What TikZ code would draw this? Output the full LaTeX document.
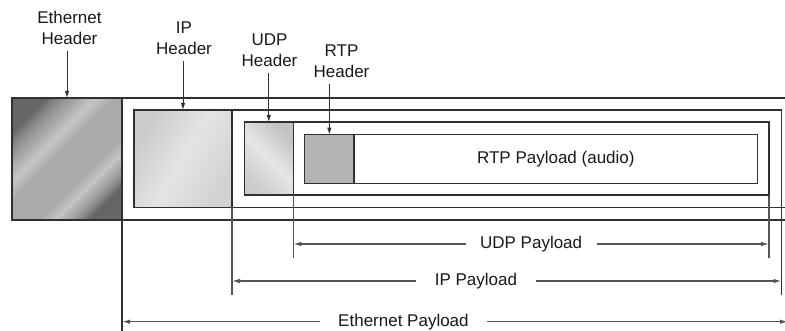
\documentclass[tikz,border=0pt]{standalone}
\usepackage{fontspec}
\setmainfont{Liberation Sans}
\usetikzlibrary{arrows.meta}
\definecolor{lnc}{HTML}{303030}
\definecolor{gln}{HTML}{555555}
\definecolor{ea}{HTML}{666666}
\definecolor{ea2}{HTML}{828282}
\definecolor{eb}{HTML}{AAAAAA}
\definecolor{eb2}{HTML}{A0A0A0}
\definecolor{ec}{HTML}{C4C4C4}
\definecolor{ia}{HTML}{CBCBCB}
\definecolor{ib}{HTML}{E4E4E4}
\definecolor{ic}{HTML}{D2D2D2}
\definecolor{ua}{HTML}{C2C2C2}
\definecolor{ub}{HTML}{E6E6E6}
\definecolor{uc}{HTML}{CFCFCF}
\definecolor{rtpg}{HTML}{B3B3B3}
\pgfdeclarehorizontalshading{ethsh}{100bp}{color(0bp)=(ea); color(25bp)=(ea); color(28bp)=(ea2); color(33bp)=(eb2); color(40bp)=(ec); color(46bp)=(eb); color(60bp)=(eb); color(65bp)=(ec); color(70bp)=(eb2); color(73bp)=(ea2); color(75bp)=(ea); color(100bp)=(ea)}
\pgfdeclarehorizontalshading{ipsh}{100bp}{color(0bp)=(ia); color(25bp)=(ia); color(50bp)=(ib); color(75bp)=(ic); color(100bp)=(ic)}
\pgfdeclarehorizontalshading{udpsh}{100bp}{color(0bp)=(ua); color(28bp)=(uc); color(50bp)=(ub); color(75bp)=(ua); color(100bp)=(ua)}
\begin{document}
\begin{tikzpicture}[x=1pt, y=-1pt,
  font=\fontsize{17}{21.5}\selectfont,
  box/.style={draw=lnc, line width=1.2pt, inner sep=0pt, outer sep=0pt},
  ln/.style={draw=lnc, line width=1.2pt},
  ext/.style={draw=gln, line width=1.4pt},
  lab/.style={align=center, inner sep=0pt, outer sep=0pt, anchor=north, text=black!90},
  harr/.style={draw=lnc, line width=1pt, -{Latex[length=7pt,width=4.5pt]}},
  parr/.style={draw=gln, line width=1.2pt, {Latex[length=8pt,width=4.5pt]}-{Latex[length=8pt,width=4.5pt]}},
  plab/.style={fill=white, inner ysep=2pt, text=black!90}]
\clip (0,0) rectangle (785,331);
% header boxes
\node[box, shade, shading=ethsh, shading angle=-45, minimum width=110, minimum height=122] (ethh) at (67,159) {};
\node[box, shade, shading=ipsh, shading angle=-30, minimum width=98, minimum height=97.5] (iph) at (183,158.75) {};
\node[box, shade, shading=udpsh, shading angle=45, minimum width=49, minimum height=73] (udph) at (268.8,158.5) {};
\node[box, fill=rtpg, minimum width=49.3, minimum height=49] (rtph) at (329.35,159.2) {};
\node[box, minimum width=403.7, minimum height=49, text=black!90] (rtpp) at (555.85,159.2) {RTP Payload (audio)};
% Ethernet frame
\draw[ln] (785,98) -- (ethh.north west);
\draw[ln] (ethh.south west) -- (785,220);
\draw[ln] (ethh.north east) -- (122,331);
% IP frame
\draw[ln] (iph.north east) -- (781.5,110) -- (781.5,295);
\draw[ln] (iph.south east) -- (785,207.5);
\draw[ext] (iph.south east) -- (232,295);
% UDP frame
\draw[ln] (udph.north east) -- (769,122) -- (769,195);
\draw[ext] (769,195) -- (769,258);
\draw[ln] (udph.south east) -- (769,195);
\draw[ext] (udph.south east) -- (293.3,258);
% payload arrows
\coordinate (uL) at (293.3,244); \coordinate (uR) at (769,244);
\coordinate (iL) at (232,281); \coordinate (iR) at (781.5,281);
\coordinate (eL) at (122,321.7); \coordinate (eR) at (788,321.7);
\draw[parr] (uL) -- node[plab, inner xsep=14.5pt] {UDP Payload} (uR);
\draw[parr] (iL) -- node[plab, inner xsep=19pt, pos=0.444] {IP Payload} (iR);
\draw[parr] (eL) -- node[plab, inner xsep=18.5pt, pos=0.4226] {Ethernet Payload} (eR);
% labels
\node[lab] (ethl) at (69.5,10.7) {Ethernet\\Header};
\node[lab] (ipl) at (184,21.7) {IP\\Header};
\node[lab] (udpl) at (269.5,33.6) {UDP\\Header};
\node[lab] (rtpl) at (341.5,44.6) {RTP\\Header};
\draw[harr] (ethl.south -| ethh.north) ++(0,6) -- (ethh.north);
\draw[harr] (ipl.south -| iph.north) ++(0,6) -- (iph.north);
\draw[harr] (udpl.south -| udph.north) ++(0,6) -- (udph.north);
\draw[harr] (rtpl.south -| rtph.north) ++(0,6) -- (rtph.north);
\end{tikzpicture}
\end{document}
